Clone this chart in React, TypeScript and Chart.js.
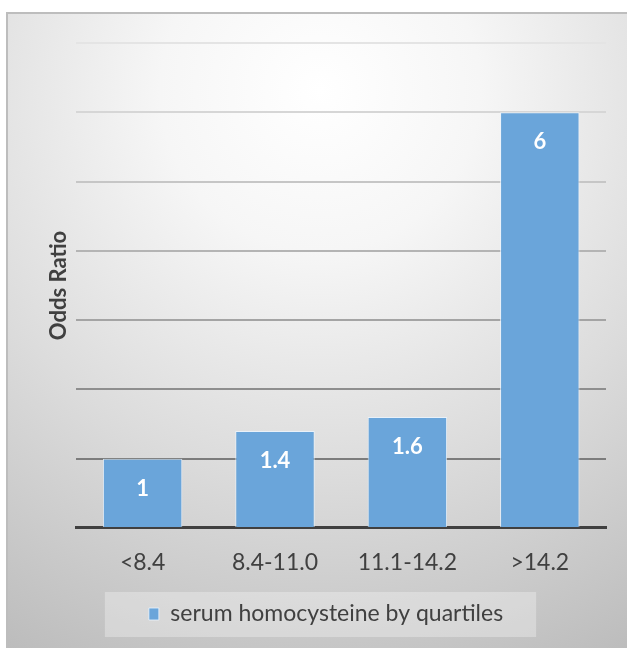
import React, { useEffect, useRef } from "react";
import { Chart, registerables } from "chart.js";

Chart.register(...registerables);

const categories = ["<8.4", "8.4-11.0", "11.1-14.2", ">14.2"];
const oddsRatios = [1, 1.4, 1.6, 6];
const valueLabels = ["1", "1.4", "1.6", "6"];
const seriesName = "serum homocysteine by quartiles";
const yTitle = "Odds Ratio";
const gridColors = ["#404040", "#7c7c7c", "#8e8e8e", "#a4a4a4", "#b4b4b4", "#c6c6c6", "#d6d6d6", "#e4e4e4"];

const FONT = "Lato, 'Open Sans', sans-serif";

const framePlugin = {
  id: "frame",
  beforeDraw(chart: any) {
    const { ctx, width, height } = chart;
    ctx.save();
    ctx.fillStyle = "#ffffff";
    ctx.fillRect(0, 0, width, height);
    const g = ctx.createRadialGradient(320, 90, 0, 320, 90, 640);
    g.addColorStop(0, "#ffffff");
    g.addColorStop(0.25, "#f6f6f6");
    g.addColorStop(0.6, "#dcdcdc");
    g.addColorStop(1, "#bcbcbc");
    ctx.fillStyle = g;
    ctx.fillRect(7, 13, width, height);
    ctx.strokeStyle = "#bdbdbd";
    ctx.lineWidth = 2;
    ctx.strokeRect(7, 13, width + 10, height + 10);
    const legend = chart.legend;
    if (legend && legend.legendHitBoxes && legend.legendHitBoxes.length) {
      const hb = legend.legendHitBoxes[0];
      const cy = hb.top + hb.height / 2;
      ctx.fillStyle = "rgba(255,255,255,0.3)";
      ctx.fillRect(hb.left - 44, cy - 22, hb.width + 77, 45);
    }
    ctx.restore();
  },
};

const labelPlugin = {
  id: "valueLabels",
  afterDatasetsDraw(chart: any) {
    const { ctx } = chart;
    const meta = chart.getDatasetMeta(0);
    ctx.save();
    ctx.fillStyle = "#ffffff";
    ctx.font = `bold 22px ${FONT}`;
    ctx.textAlign = "center";
    ctx.textBaseline = "middle";
    meta.data.forEach((bar: any, i: number) => {
      ctx.fillText(valueLabels[i], bar.x, bar.y + 30);
    });
    ctx.restore();
  },
};

export default function App() {
  const ref = useRef<HTMLCanvasElement>(null);
  useEffect(() => {
    const chart = new Chart(ref.current!, {
      type: "bar",
      data: {
        labels: categories,
        datasets: [
          {
            label: seriesName,
            data: oddsRatios,
            backgroundColor: "#6aa5da",
            borderColor: "rgba(235,245,255,0.8)",
            borderWidth: 1,
            borderSkipped: "bottom",
            barPercentage: 0.6,
            categoryPercentage: 1,
          },
        ],
      },
      options: {
        animation: false,
        responsive: false,
        maintainAspectRatio: false,
        layout: { padding: { left: 46, right: 21, top: 43, bottom: 12.5 } },
        plugins: {
          tooltip: { enabled: false },
          legend: {
            position: "bottom",
            labels: {
              boxWidth: 10,
              boxHeight: 12,
              padding: 13,
              color: "#404040",
              font: { family: FONT, size: 23 },
            },
          },
        },
        scales: {
          x: {
            grid: { display: false },
            border: { display: true, color: "#404040", width: 3 },
            ticks: { color: "#404040", padding: 13, font: { family: FONT, size: 23 } },
          },
          y: {
            min: 0,
            max: 7,
            ticks: { display: false, stepSize: 1 },
            border: { display: false },
            grid: {
              drawTicks: false,
              lineWidth: 2,
              color: (c: any) => gridColors[Math.round(c.tick?.value ?? 0)] || "#cccccc",
            },
            title: {
              display: true,
              text: yTitle,
              color: "#404040",
              font: { family: FONT, size: 22, weight: "bold" },
              padding: { top: 0, bottom: 4 },
            },
          },
        },
      },
      plugins: [framePlugin, labelPlugin],
    } as any);
    return () => chart.destroy();
  }, []);
  return (
    <div style={{ position: "fixed", left: 0, top: 0, width: 627, height: 648 }}>
      <canvas ref={ref} width={627} height={648} style={{ width: 627, height: 648 }} />
    </div>
  );
}
